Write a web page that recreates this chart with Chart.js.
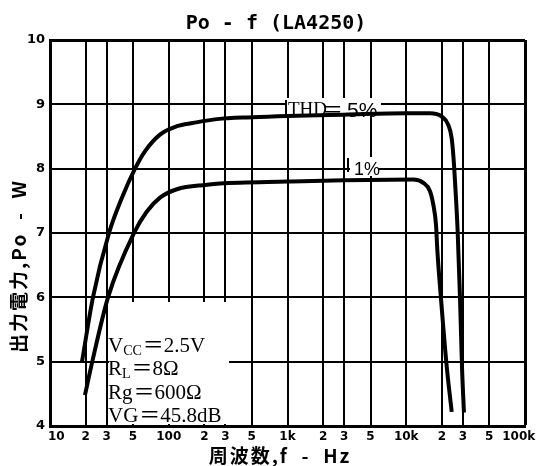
<!DOCTYPE html>
<html>
<head>
<meta charset="utf-8">
<title>Po - f (LA4250)</title>
<script src="https://cdn.jsdelivr.net/npm/chart.js@4.4.1/dist/chart.umd.min.js"></script>
<style>
  html, body { margin: 0; padding: 0; background: #fff; }
  canvas { display: block; }
</style>
</head>
<body>
<canvas id="myChart" width="536" height="466"></canvas>
<script>
// output power (W) against frequency (Hz)
const freq5 = [18.6, 23, 31.4, 40.2, 52, 63, 84.4, 117, 160, 255, 500, 1000, 3000, 10000, 15800, 19900, 22600, 24150, 25250, 26240, 27100, 28380, 29460, 30600];
const power5 = [5.0, 6.0, 7.0, 7.54, 8.0, 8.27, 8.53, 8.66, 8.71, 8.77, 8.8, 8.82, 8.84, 8.86, 8.86, 8.81, 8.68, 8.47, 8.06, 7.54, 7.02, 5.97, 4.93, 4.21];

const freq1 = [19.7, 22.7, 30.8, 51, 65.2, 84.4, 117, 210, 270, 1000, 3000, 11460, 13930, 15850, 16900, 17820, 18250, 19630, 21900, 24150];
const power1 = [4.48, 5.0, 6.0, 7.0, 7.33, 7.55, 7.68, 7.75, 7.77, 7.8, 7.82, 7.83, 7.78, 7.65, 7.44, 7.12, 6.75, 5.97, 4.93, 4.22];

const freqTicks = [10, 20, 30, 50, 100, 200, 300, 500, 1000, 2000, 3000, 5000, 10000, 20000, 30000, 50000, 100000];
const freqTickLabels = ["   10", "2", "3", "5", "100", "2", "3", "5", "1k", "2", "3", "5", "10k", "2", "3", "5", "100k   "];

const conditions = [
    ["V", "CC", "＝2.5V"],
    ["R", "L", "＝8Ω"],
    ["Rg", "", "＝600Ω"],
    ["VG", "", "＝45.8dB"]
];

const toPoints = (xs, ys) => xs.map((x, i) => ({ x: x, y: ys[i] }));

const textPlugin = {
    id: "sheetText",
    beforeDatasetsDraw(chart) {
        const ctx = chart.ctx;
        ctx.save();
        ctx.fillStyle = "#fff";
        ctx.fillRect(109, 302, 120, 122); // conditions block
        ctx.fillRect(287, 98, 94, 18);    // THD = 5%
        ctx.fillRect(350, 157, 28, 19);   // 1%
        ctx.restore();
    },
    afterDraw(chart) {
        const ctx = chart.ctx;
        ctx.save();
        ctx.fillStyle = "#000";
        ctx.strokeStyle = "#000";

        ctx.textAlign = "center";
        ctx.textBaseline = "middle";
        ctx.font = "bold 20px 'DejaVu Sans Mono'";
        ctx.fillText("Po - f (LA4250)", 276, 24);

        ctx.font = "bold 19px 'Noto Sans CJK JP'";
        ctx.letterSpacing = "2px";
        ctx.fillText("周波数,f  -  Hz", 280, 456);

        ctx.save();
        ctx.translate(19, 266);
        ctx.rotate(-Math.PI / 2);
        ctx.fillText("出力電力,Po  -  W", 0, 0);
        ctx.restore();
        ctx.letterSpacing = "0px";

        // curve labels
        ctx.lineWidth = 2;
        ctx.beginPath();
        ctx.moveTo(286, 100); ctx.lineTo(286, 117);
        ctx.moveTo(348, 158); ctx.lineTo(348, 172);
        ctx.stroke();

        ctx.textAlign = "left";
        ctx.textBaseline = "alphabetic";
        ctx.font = "19px 'Liberation Serif'";
        ctx.fillText("THD", 288, 115);
        ctx.font = "21px 'Noto Sans CJK JP'";
        ctx.fillText("＝", 322, 117);
        ctx.font = "21px 'Liberation Sans'";
        ctx.fillText("5%", 347, 117);
        ctx.font = "18px 'Liberation Sans'";
        ctx.fillText("1%", 354, 175);

        // measuring conditions
        const rows = [352, 375, 399, 422];
        conditions.forEach((c, i) => {
            let x = 108;
            ctx.font = "21px 'Liberation Serif', 'Noto Sans CJK JP'";
            ctx.fillText(c[0], x, rows[i]);
            x += ctx.measureText(c[0]).width;
            if (c[1]) {
                ctx.font = "14px 'Liberation Serif'";
                ctx.fillText(c[1], x, rows[i] + 3);
                x += ctx.measureText(c[1]).width;
            }
            ctx.font = "21px 'Liberation Serif', 'Noto Sans CJK JP'";
            ctx.fillText(c[2], x + 1, rows[i]);
        });
        ctx.restore();
    }
};

const tickFont = { family: "DejaVu Sans", weight: "bold", size: 12 };

const ctx = document.getElementById("myChart").getContext("2d");
const myChart = new Chart(ctx, {
    type: "line",
    data: {
        datasets: [
            {
                label: "THD=5%",
                data: toPoints(freq5, power5),
                borderColor: "#000",
                borderWidth: 4,
                pointRadius: 0,
                fill: false,
                cubicInterpolationMode: "monotone"
            },
            {
                label: "1%",
                data: toPoints(freq1, power1),
                borderColor: "#000",
                borderWidth: 4,
                pointRadius: 0,
                fill: false,
                cubicInterpolationMode: "monotone"
            }
        ]
    },
    options: {
        responsive: false,
        animation: false,
        layout: { padding: { top: 40, right: 11, left: 0, bottom: 0 } },
        plugins: {
            legend: { display: false },
            tooltip: { enabled: false },
            title: { display: false }
        },
        scales: {
            x: {
                type: "logarithmic",
                min: 10,
                max: 100000,
                afterBuildTicks: s => { s.ticks = freqTicks.map(v => ({ value: v })); },
                afterFit: s => {
                    s.height = 40;
                    s.paddingLeft = 0;
                    s.paddingRight = 0;
                },
                ticks: {
                    autoSkip: false,
                    maxRotation: 0,
                    padding: 4,
                    color: "#000",
                    font: tickFont,
                    callback: v => freqTickLabels[freqTicks.indexOf(v)]
                },
                grid: {
                    color: "#000",
                    lineWidth: c => (c.tick && c.tick.value === 100000 ? 3 : 2),
                    drawTicks: false
                },
                border: { color: "#000", width: 3 }
            },
            y: {
                min: 4,
                max: 10,
                afterFit: s => { s.width = 50; },
                ticks: {
                    stepSize: 1,
                    padding: 5,
                    color: "#000",
                    font: { family: "DejaVu Sans", weight: "bold", size: 13 }
                },
                grid: {
                    color: "#000",
                    lineWidth: c => (c.tick && c.tick.value === 10 ? 3 : 2),
                    drawTicks: false
                },
                border: { color: "#000", width: 3 }
            }
        }
    },
    plugins: [textPlugin]
});
</script>
</body>
</html>
